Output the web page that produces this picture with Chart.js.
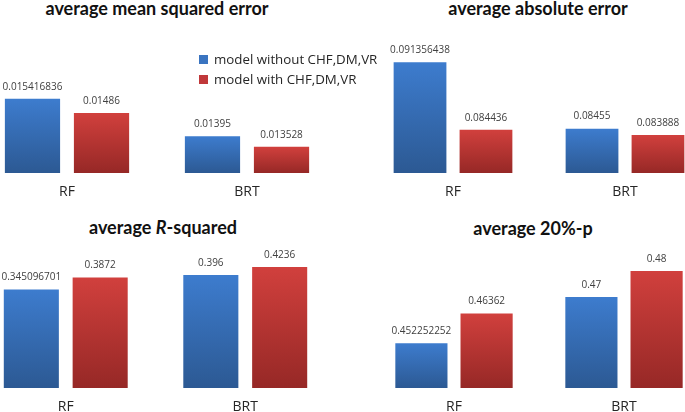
<!DOCTYPE html>
<html>
<head>
<meta charset="utf-8">
<script src="https://cdn.jsdelivr.net/npm/chart.js@4"></script>
<style>
  html, body { margin: 0; padding: 0; background: #fff; }
  body { width: 685px; height: 412px; position: relative; overflow: hidden; font-family: Lato, sans-serif; }
  .panel { position: absolute; }
  .title { position: absolute; font-family: Lato, sans-serif; font-weight: bold; font-size: 18px; color: #111; text-align: center; white-space: nowrap; }
  .legend { position: absolute; left: 199px; top: 50px; font-family: "Open Sans", sans-serif; font-size: 13.3px; color: #262626; }
  .legend div { height: 20px; line-height: 18px; white-space: nowrap; }
  .legend span { display: inline-block; width: 9px; height: 9px; margin-right: 6px; }
</style>
</head>
<body>
<div class="title" style="left:7px; top:-3px; width:300px;">average mean squared error</div>
<div class="title" style="left:388px; top:-3px; width:300px;">average absolute error</div>
<div class="title" style="left:13px; top:216px; width:300px;">average <i>R</i>-squared</div>
<div class="title" style="left:383px; top:217px; width:300px;">average 20%-p</div>

<div class="panel" style="left:-23px; top:60px; width:360px; height:143px;"><canvas id="mse"></canvas></div>
<div class="panel" style="left:367px; top:30px; width:344px; height:173px;"><canvas id="mae"></canvas></div>
<div class="panel" style="left:-24px; top:235px; width:359px; height:183px;"><canvas id="r2"></canvas></div>
<div class="panel" style="left:369px; top:221px; width:340px; height:197px;"><canvas id="p20"></canvas></div>

<div class="legend">
  <div><span style="background:#3a74c0"></span>model without CHF,DM,VR</div>
  <div><span style="background:#c0383a"></span>model with CHF,DM,VR</div>
</div>

<script>
// données
const categories = ['RF', 'BRT'];
const seriesNames = ['model without CHF,DM,VR', 'model with CHF,DM,VR'];

const mseWithout = [0.015416836, 0.01395];
const mseWith = [0.01486, 0.013528];
const maeWithout = [0.091356438, 0.08455];
const maeWith = [0.084436, 0.083888];
const r2Without = [0.345096701, 0.396];
const r2With = [0.3872, 0.4236];
const p20Without = [0.452252252, 0.47];
const p20With = [0.46362, 0.48];

// bornes des axes (axes masqués)
const mseRange = [0.0125, 0.016];
const maeRange = [0.08, 0.092];
const r2Range = [0, 0.45];
const p20Range = [0.435, 0.49];

const blueStops = ['#3d7cce', '#2c5993'];
const redStops = ['#d1403d', '#962826'];

// dégradé vertical par barre
function barGradient(stops) {
    return function(context) {
        const chart = context.chart;
        const area = chart.chartArea;
        if (!area || context.raw === undefined) return stops[0];
        const top = chart.scales.y.getPixelForValue(context.raw);
        const g = chart.ctx.createLinearGradient(0, top, 0, area.bottom);
        g.addColorStop(0, stops[0]);
        g.addColorStop(1, stops[1]);
        return g;
    };
}

// étiquettes de valeur au-dessus des barres
const valueLabels = {
    id: 'valueLabels',
    afterDatasetsDraw(chart) {
        const ctx = chart.ctx;
        ctx.save();
        ctx.font = '10px "Open Sans", sans-serif';
        ctx.fillStyle = '#404040';
        ctx.textAlign = 'center';
        ctx.textBaseline = 'bottom';
        chart.data.datasets.forEach(function(ds, i) {
            chart.getDatasetMeta(i).data.forEach(function(bar, j) {
                ctx.fillText(String(ds.data[j]), bar.x, bar.y - 7);
            });
        });
        ctx.restore();
    }
};

function makePanel(id, without, withV, range, padTop) {
    const ctx = document.getElementById(id).getContext('2d');
    return new Chart(ctx, {
        type: 'bar',
        data: {
            labels: categories,
            datasets: [{
                label: seriesNames[0],
                data: without,
                backgroundColor: barGradient(blueStops),
                borderWidth: 0
            }, {
                label: seriesNames[1],
                data: withV,
                backgroundColor: barGradient(redStops),
                borderWidth: 0
            }]
        },
        options: {
            responsive: true,
            maintainAspectRatio: false,
            animation: false,
            categoryPercentage: 0.767,
            barPercentage: 0.8,
            layout: { padding: { top: padTop, left: 0, right: 0, bottom: 0 } },
            plugins: {
                legend: { display: false },
                title: { display: false },
                tooltip: { enabled: false }
            },
            scales: {
                y: {
                    display: false,
                    min: range[0],
                    max: range[1]
                },
                x: {
                    grid: { display: false, drawTicks: false },
                    border: { display: false },
                    ticks: {
                        padding: 11,
                        color: '#262626',
                        font: { family: '"Open Sans", sans-serif', size: 14 }
                    },
                    afterFit: function(scale) { scale.height = 30; }
                }
            }
        },
        plugins: [valueLabels]
    });
}

makePanel('mse', mseWithout, mseWith, mseRange, 24);
makePanel('mae', maeWithout, maeWith, maeRange, 26);
makePanel('r2', r2Without, r2With, r2Range, 24.5);
makePanel('p20', p20Without, p20With, p20Range, 24);
</script>
</body>
</html>
